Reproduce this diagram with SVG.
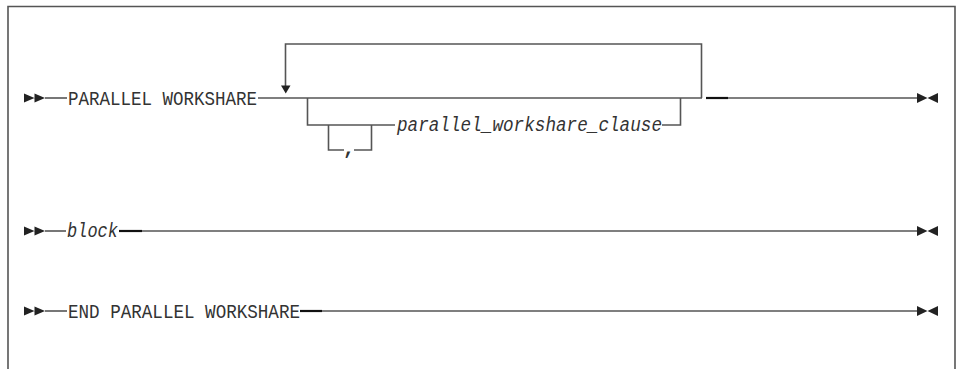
<svg xmlns="http://www.w3.org/2000/svg" width="958" height="369" viewBox="0 0 958 369">
<defs>
<style>
.ln{stroke:#555;stroke-width:1.6;fill:none}
.dk{stroke:#111;stroke-width:2.2;fill:none}
.frame{stroke:#555;stroke-width:1.6;fill:none}
.kw{font-family:"Liberation Mono","DejaVu Sans Mono",monospace;font-size:20px;fill:#333}
.var{font-family:"Liberation Mono","DejaVu Sans Mono",monospace;font-size:20px;font-style:italic;fill:#333}
.ah{fill:#222}
</style>
<path id="start" d="M0,-4.5 L10.5,0 L0,4.5 Z M10.5,-4.5 L21,0 L10.5,4.5 Z"/>
<path id="end" d="M0,-5 L10.5,0 L0,5 Z M21,-5 L10.5,0 L21,5 Z"/>
</defs>
<rect width="958" height="369" fill="#fff"/>
<path class="frame" d="M8,380 L8,6.5 L955,6.5 L955,380"/>

<g id="connectors">
<!-- row 1 -->
<line class="ln" x1="45" y1="98" x2="67" y2="98"/>
<line class="ln" x1="258" y1="98" x2="702" y2="98"/>
<path class="ln" d="M285.5,87 L285.5,44 L701.5,44 L701.5,98"/>
<path class="ln" d="M307.5,98 L307.5,125 L395,125"/>
<path class="ln" d="M662,125 L680.5,125 L680.5,98"/>
<path class="ln" d="M328.5,125 L328.5,150 L344,150"/>
<path class="ln" d="M354,150 L371.5,150 L371.5,125"/>
<line class="dk" x1="706" y1="98" x2="728" y2="98"/>
<line class="ln" x1="728" y1="98" x2="917" y2="98"/>
<!-- row 2 -->
<line class="ln" x1="45" y1="231" x2="66" y2="231"/>
<line class="dk" x1="119" y1="231" x2="142" y2="231"/>
<line class="ln" x1="142" y1="231" x2="917" y2="231"/>
<!-- row 3 -->
<line class="ln" x1="45" y1="311" x2="67" y2="311"/>
<line class="dk" x1="300" y1="311" x2="322" y2="311"/>
<line class="ln" x1="322" y1="311" x2="917" y2="311"/>
<!-- arrowheads -->
<path class="ah" d="M281,85.5 L290.5,85.5 L285.75,93.5 Z"/>
<use href="#start" class="ah" x="24" y="98"/>
<use href="#start" class="ah" x="24" y="231"/>
<use href="#start" class="ah" x="24" y="311"/>
<use href="#end" class="ah" x="917" y="98"/>
<use href="#end" class="ah" x="917" y="231"/>
<use href="#end" class="ah" x="917" y="311"/>
</g>

<g id="node-parallel-workshare">
<text class="kw" x="68" y="104.5" textLength="189" lengthAdjust="spacingAndGlyphs">PARALLEL WORKSHARE</text>
</g>
<g id="node-clause">
<text class="var" x="397" y="131" textLength="265" lengthAdjust="spacingAndGlyphs">parallel_workshare_clause</text>
</g>
<g id="node-comma">
<text class="kw" x="349" y="154" text-anchor="middle" font-weight="bold">,</text>
</g>
<g id="node-block">
<text class="var" x="67" y="237" textLength="51" lengthAdjust="spacingAndGlyphs">block</text>
</g>
<g id="node-end-parallel-workshare">
<text class="kw" x="68" y="317.5" textLength="232" lengthAdjust="spacingAndGlyphs">END PARALLEL WORKSHARE</text>
</g>
</svg>
